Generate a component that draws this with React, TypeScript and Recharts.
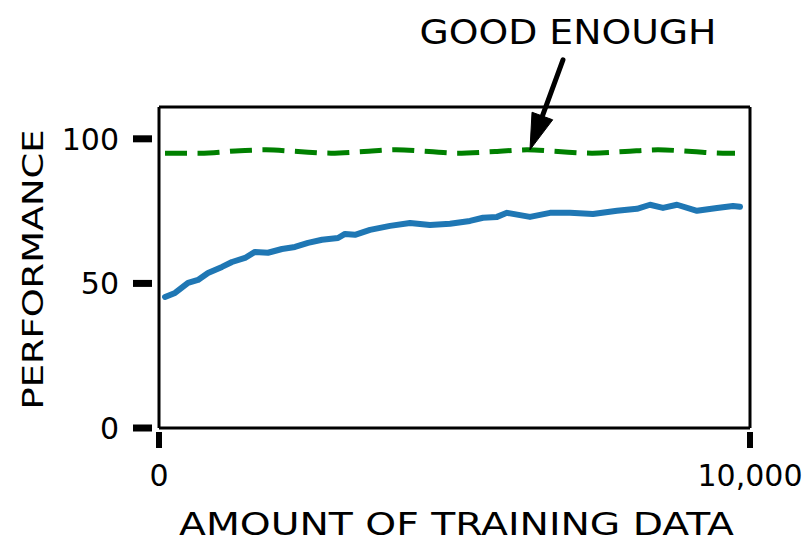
import React from 'react';
import { LineChart, Line, XAxis, YAxis, ReferenceLine, ReferenceDot, Label } from 'recharts';

// Amount of training data (x) and measured performance (y)
const trainingAmount = [102, 271, 491, 660, 829, 1066, 1235, 1455, 1624, 1844, 2081, 2301, 2521, 2758, 3029, 3147, 3316, 3570, 3909, 4247, 4585, 4924, 5262, 5482, 5719, 5888, 6277, 6616, 6954, 7343, 7750, 8088, 8308, 8528, 8765, 9103, 9442, 9712, 9831];
const performance = [45.3, 46.7, 50.2, 51.2, 53.6, 55.7, 57.4, 58.8, 60.9, 60.6, 61.9, 62.6, 64.0, 65.1, 65.7, 67.1, 66.8, 68.5, 69.9, 70.9, 70.2, 70.6, 71.6, 72.7, 73.0, 74.4, 73.0, 74.4, 74.4, 74.0, 75.1, 75.8, 77.2, 76.1, 77.2, 75.1, 76.1, 76.8, 76.5];

// "Good enough" threshold line (hand-drawn wobble)
const goodEnoughX = [102, 694, 1371, 1810, 2352, 2910, 3469, 4010, 4569, 5042, 5685, 6227, 6751, 7327, 7885, 8443, 9019, 9543, 9746];
const goodEnoughY = [95.05, 95.05, 95.9, 96.2, 95.6, 95.05, 95.6, 96.2, 95.6, 95.05, 95.6, 96.2, 95.6, 95.05, 95.6, 96.2, 95.6, 95.05, 95.05];

const xTicks = [0, 10000];
const xTickLabels = ['0', '10,000'];
const yTicks = [0, 50, 100];
const yTickLabels = ['0', '50', '100'];

const annotationText = 'GOOD ENOUGH';
const annotationPoint = { x: 6277, y: 95.5 };
const xTitle = 'AMOUNT OF TRAINING DATA';
const yTitle = 'PERFORMANCE';

const perfData = trainingAmount.map((x, i) => ({ x, perf: performance[i] }));
const goodData = goodEnoughX.map((x, i) => ({ x, perf: goodEnoughY[i] }));

const FONT = '"DejaVu Sans", sans-serif';

const YTick = (props: any) => {
  const { x, y, payload } = props;
  const idx = yTicks.indexOf(payload.value);
  return (
    <g>
      <rect x={x - 26} y={y - 3.5} width={19} height={7} fill="#000" />
      <text x={x - 40} y={y} dy="0.36em" textAnchor="end" fontFamily={FONT} fontSize={30} fill="#000">
        {yTickLabels[idx]}
      </text>
    </g>
  );
};

const XTick = (props: any) => {
  const { x, y, payload } = props;
  const idx = xTicks.indexOf(payload.value);
  return (
    <g>
      <rect x={x - 3} y={y + 4} width={6} height={16} fill="#000" />
      <text x={x} y={y + 58} textAnchor="middle" fontFamily={FONT} fontSize={30} fill="#000">
        {xTickLabels[idx]}
      </text>
    </g>
  );
};

const YTitle = (props: any) => {
  const vb = props.viewBox || {};
  const cx = 33;
  const cy = (vb.y ?? 107) + (vb.height ?? 321) / 2 + 2;
  return (
    <text
      x={cx}
      y={cy}
      transform={`rotate(-90 ${cx} ${cy})`}
      textAnchor="middle"
      dominantBaseline="central"
      fontFamily={FONT}
      fontSize={29}
      textLength={280}
      lengthAdjust="spacingAndGlyphs"
      fill="#000"
    >
      {yTitle}
    </text>
  );
};

const XTitle = (props: any) => {
  const vb = props.viewBox || {};
  const cx = (vb.x ?? 159) + (vb.width ?? 591) / 2 + 2;
  const by = (vb.y ?? 428) + 107;
  return (
    <text
      x={cx}
      y={by}
      textAnchor="middle"
      fontFamily={FONT}
      fontSize={32}
      textLength={555}
      lengthAdjust="spacingAndGlyphs"
      fill="#000"
    >
      {xTitle}
    </text>
  );
};

const Annotation = (props: any) => {
  const { cx, cy } = props;
  const tipX = cx;
  const tipY = cy - 2;
  const tailX = cx + 33;
  const tailY = cy - 92;
  const dx = tipX - tailX;
  const dy = tipY - tailY;
  const len = Math.sqrt(dx * dx + dy * dy);
  const ux = dx / len;
  const uy = dy / len;
  const headLen = 36;
  const headHalf = 11;
  const bx = tipX - ux * headLen;
  const by = tipY - uy * headLen;
  const px = -uy;
  const py = ux;
  return (
    <g>
      <line x1={tailX} y1={tailY} x2={bx + ux * 4} y2={by + uy * 4} stroke="#000" strokeWidth={5} strokeLinecap="round" />
      <polygon
        points={`${tipX},${tipY} ${bx + px * headHalf},${by + py * headHalf} ${bx - px * headHalf},${by - py * headHalf}`}
        fill="#000"
        stroke="#000"
        strokeWidth={1}
        strokeLinejoin="round"
      />
      <text
        x={cx + 38}
        y={cy - 108}
        textAnchor="middle"
        fontFamily={FONT}
        fontSize={33}
        textLength={297}
        lengthAdjust="spacingAndGlyphs"
        fill="#000"
      >
        {annotationText}
      </text>
    </g>
  );
};

export default function App() {
  return (
    <div style={{ position: 'absolute', left: 0, top: 0, width: 812, height: 543, background: '#fff' }}>
      <LineChart
        width={812}
        height={543}
        margin={{ top: 107, right: 62, bottom: 5, left: 9 }}
      >
        <XAxis
          type="number"
          dataKey="x"
          domain={[0, 10000]}
          ticks={xTicks}
          tick={<XTick />}
          tickLine={false}
          tickSize={0}
          tickMargin={0}
          height={110}
          axisLine={{ stroke: '#000', strokeWidth: 3 }}
          allowDataOverflow
        >
          <Label content={<XTitle />} />
        </XAxis>
        <YAxis
          type="number"
          domain={[0, 111]}
          ticks={yTicks}
          tick={<YTick />}
          tickLine={false}
          tickSize={0}
          tickMargin={0}
          width={150}
          axisLine={{ stroke: '#000', strokeWidth: 3 }}
          allowDataOverflow
        >
          <Label content={<YTitle />} />
        </YAxis>
        <ReferenceLine y={111} stroke="#000" strokeWidth={3} />
        <ReferenceLine x={10000} stroke="#000" strokeWidth={3} />
        <Line
          data={goodData}
          dataKey="perf"
          type="monotone"
          stroke="#008000"
          strokeWidth={5}
          strokeDasharray="22 10.5"
          dot={false}
          activeDot={false}
          isAnimationActive={false}
        />
        <Line
          data={perfData}
          dataKey="perf"
          type="linear"
          stroke="#1f77b4"
          strokeWidth={6}
          strokeLinejoin="round"
          strokeLinecap="round"
          dot={false}
          activeDot={false}
          isAnimationActive={false}
        />
        <ReferenceDot x={annotationPoint.x} y={annotationPoint.y} shape={<Annotation />} ifOverflow="visible" />
      </LineChart>
    </div>
  );
}
